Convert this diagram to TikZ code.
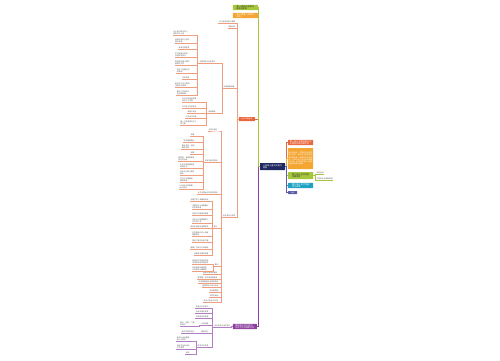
\documentclass[tikz,border=0pt]{standalone}
\usepackage{fontspec}
\setmainfont{Noto Sans CJK SC}
\XeTeXlinebreaklocale "zh"
\XeTeXlinebreakskip = 0pt plus 1pt
\usetikzlibrary{positioning}
\tikzstyle{mapCanvas} = [x = 1pt, y = -1pt]
\definecolor{rootColor}{HTML}{1F2A63}
\definecolor{limeColor}{HTML}{A6C63C}
\definecolor{amberColor}{HTML}{F4A532}
\definecolor{coralColor}{HTML}{E9673D}
\definecolor{plumColor}{HTML}{8C3F9E}
\definecolor{tealColor}{HTML}{1DA2C4}
\definecolor{slateColor}{HTML}{5C5EA8}
\definecolor{coralLine}{HTML}{EE9E7E}
\definecolor{plumLine}{HTML}{B27DC2}
\tikzstyle{boxStyle} = [rounded corners = .3pt, inner sep = .4pt, align = left, font = \fontsize{2.1}{2.4}\selectfont, text = white]
\tikzstyle{leafText} = [anchor = east, inner sep = .3pt, align = left, font = \fontsize{1.8}{2.1}\selectfont, text = black!65]
\tikzstyle{trunkLine} = [line width = .55pt]
\tikzstyle{branchLine} = [line width = .35pt]
% leaf: name, parent anchor, colour, x, y, text
\newcommand{\leafNode}[6]{
  \node [leafText] (#1) at (#4,#5) {#6};
  \draw [branchLine, #3] (#1.south west) -- (#1.south east) -| ([xshift=-1.5pt]#2) -- (#2);
}
\newcommand{\leafRight}[6]{
  \node [leafText, anchor = west] (#1) at (#4,#5) {#6};
  \draw [branchLine, #3] (#1.south east) -- (#1.south west) -| ([xshift=1.5pt]#2) -- (#2);
}

\begin{document}
\begin{tikzpicture}[mapCanvas]
    \useasboundingbox (0,0) rectangle (500,360);
    % root
    \node [boxStyle, fill = rootColor, minimum width = 25pt, minimum height = 7pt] (root) at (272.5,166.5) {八年级上册历史复习\\提纲};
    % right side
    \node [boxStyle, fill = coralColor, minimum width = 25pt, minimum height = 5pt, anchor = west] (unitOne) at (288,142.5) {第一单元 中国开始沦为\\半殖民地半封建社会};
    \node [boxStyle, fill = amberColor, text width = 24pt, minimum height = 21pt, anchor = west, font = \fontsize{1.8}{2.3}\selectfont] (unitSummary) at (288,158.5) {鸦片战争后，中国的社会性质发生变化，逐渐沦为半殖民地半封建社会，民族危机不断加深，人民开始了反抗外来侵略的斗争，先进的中国人开始探索救国救民的道路。};
    \node [boxStyle, fill = limeColor, minimum width = 25pt, minimum height = 7pt, anchor = west, text = black!80] (unitTwo) at (288,175.5) {第二单元 近代化的\\早期探索};
    \node [boxStyle, fill = tealColor, minimum width = 25pt, minimum height = 5pt, anchor = west] (unitThree) at (288,185.5) {第三单元 资产阶级\\民主革命};
    \node [boxStyle, fill = slateColor, minimum width = 9pt, minimum height = 3pt, anchor = west, font = \fontsize{1.6}{1.9}\selectfont] (summary) at (288,192.5) {总结};
    \draw [trunkLine, coralColor] (root.east) -- ++(1.5,0) |- (unitOne.west);
    \draw [trunkLine, amberColor] (root.east) -- ++(1.5,0) |- (unitSummary.west);
    \draw [trunkLine, limeColor] (root.east) -- ++(1.5,0) |- (unitTwo.west);
    \draw [trunkLine, tealColor] (root.east) -- ++(1.5,0) |- (unitThree.west);
    \draw [trunkLine, slateColor] (root.east) -- ++(1.5,0) |- (summary.west);
    \leafRight{reform}{unitTwo.east}{limeColor}{316}{172.5}{洋务运动}
    \leafRight{wuxu}{unitTwo.east}{limeColor}{316}{178.5}{戊戌变法与维新思想}
    % left side
    \node [boxStyle, fill = limeColor, minimum width = 25pt, minimum height = 5pt, anchor = east, text = black!80] (lessonOne) at (258,7.5) {第一课 鸦片战争的\\爆发与影响};
    \node [boxStyle, fill = amberColor, minimum width = 25pt, minimum height = 5pt, anchor = east] (lessonTwo) at (258,15.5) {第二课 第二次鸦片\\战争};
    \node [boxStyle, fill = coralColor, minimum width = 16pt, minimum height = 4pt, anchor = east, font = \fontsize{1.8}{2.1}\selectfont] (taiping) at (255,119) {太平天国运动};
    \node [boxStyle, fill = plumColor, minimum width = 24pt, minimum height = 5pt, anchor = east] (society) at (257,326.5) {第四单元 近代经济\\社会生活与教育文化};
    \draw [trunkLine, plumColor] (root.west) -- ++(-1.5,0) |- (society.east);
    \draw [trunkLine, coralColor] (root.west) -- ++(-1.5,0) |- (taiping.east);
    \draw [trunkLine, amberColor] (root.west) -- ++(-1.5,0) |- (lessonTwo.east);
    \draw [trunkLine, limeColor] (root.west) -- ++(-1.5,0) |- (lessonOne.east);
    % taiping branch
    \leafNode{jintian}{taiping.west}{coralLine}{236}{21.5}{1851年金田起义爆发}
    \leafNode{tianjing}{taiping.west}{coralLine}{236}{26.5}{定都天京}
    \leafNode{tianmu}{taiping.west}{coralLine}{235}{86.5}{天朝田亩制度}
    \leafNode{decline}{taiping.west}{coralLine}{236}{215.5}{天京变乱与失败}
    \leafNode{content}{tianmu.south west}{coralLine}{216}{61.5}{主要内容与历史意义}
    \leafNode{zizheng}{tianmu.south west}{coralLine}{216}{111.5}{资政新篇}
    \leafNode{aOne}{content.south west}{coralLine}{190}{33}{以土地问题为中心，\\规定平分土地}
    \leafNode{aTwo}{content.south west}{coralLine}{190}{41}{反映农民对土地的\\强烈渴望}
    \leafNode{aThree}{content.south west}{coralLine}{190}{48}{具有空想性质}
    \leafNode{aFour}{content.south west}{coralLine}{190}{55}{不可能真正实现，\\没有实际执行}
    \leafNode{aFive}{content.south west}{coralLine}{190}{62.5}{是农民阶级斗争的\\纲领性文件}
    \leafNode{aSix}{content.south west}{coralLine}{190}{70.5}{否定了封建土地\\所有制}
    \leafNode{aSeven}{content.south west}{coralLine}{190}{78}{历史局限}
    \leafNode{aEight}{content.south west}{coralLine}{190}{85}{绝对平均主义思想\\违背经济规律}
    \leafNode{aNine}{content.south west}{coralLine}{190}{92.5}{推动了农民起义\\达到新高峰}
    \leafNode{bOne}{zizheng.south west}{coralLine}{197}{100}{洪仁玕提出的发展\\资本主义方案}
    \leafNode{bTwo}{zizheng.south west}{coralLine}{197}{106.5}{学习西方先进技术}
    \leafNode{bThree}{zizheng.south west}{coralLine}{197}{111.5}{发展工商业}
    \leafNode{bFour}{zizheng.south west}{coralLine}{197}{116.5}{兴办近代交通}
    \leafNode{bFive}{zizheng.south west}{coralLine}{197}{123}{第一个发展资本主义\\的方案}
    % decline branch
    \leafNode{northern}{decline.south west}{coralLine}{218}{129.5}{北伐与西征}
    \leafNode{cause}{decline.south west}{coralLine}{218}{160.5}{天京变乱的原因}
    \leafNode{failure}{decline.south west}{coralLine}{218}{192.5}{太平天国运动失败的原因}
    \leafNode{meaning}{decline.south west}{coralLine}{218}{226.5}{意义}
    \leafNode{lesson}{decline.south west}{coralLine}{219}{264.5}{教训}
    \leafNode{dOne}{decline.south west}{coralLine}{218}{272.5}{湘军与淮军的镇压}
    \leafNode{dTwo}{decline.south west}{coralLine}{218}{277.5}{曾国藩、李鸿章组建武装}
    \leafNode{dThree}{decline.south west}{coralLine}{219}{281.5}{外国侵略者协助清军镇压}
    \leafNode{dFour}{decline.south west}{coralLine}{219}{286}{组建洋枪队参与作战}
    \leafNode{dFive}{decline.south west}{coralLine}{219}{291}{天京被围困}
    \leafNode{dSix}{decline.south west}{coralLine}{219}{296}{洪秀全病逝}
    \leafNode{dSeven}{decline.south west}{coralLine}{219}{300.5}{坚持斗争至1868年}
    \leafNode{cOne}{cause.south west}{coralLine}{195}{135}{背景}
    \leafNode{cTwo}{cause.south west}{coralLine}{195}{140.5}{领导集团腐化}
    \leafNode{cThree}{cause.south west}{coralLine}{195}{147}{争权夺利，互相\\猜忌残杀}
    \leafNode{cFour}{cause.south west}{coralLine}{195}{152.5}{结果}
    \leafNode{cFive}{cause.south west}{coralLine}{195}{158.5}{杨秀清、韦昌辉被杀\\石达开出走}
    \leafNode{cSix}{cause.south west}{coralLine}{195}{166}{太平天国由盛转衰\\的转折点}
    \leafNode{cSeven}{cause.south west}{coralLine}{195}{173}{中外反动势力联合\\镇压}
    \leafNode{cEight}{cause.south west}{coralLine}{195}{180}{洪仁玕总理朝政，\\颁布新政}
    \leafNode{cNine}{cause.south west}{coralLine}{195}{186.5}{1864年天京陷落，\\运动失败}
    \leafNode{eOne}{meaning.south west}{coralLine}{209}{200}{沉重打击了清朝的统治}
    \leafNode{eTwo}{meaning.south west}{coralLine}{209}{207}{中国历史上规模最大\\的农民战争}
    \leafNode{eThree}{meaning.south west}{coralLine}{209}{214}{动摇了封建统治根基}
    \leafNode{eFour}{meaning.south west}{coralLine}{209}{221}{冲击了外国侵略势力\\在华的扩张}
    \leafNode{eFive}{meaning.south west}{coralLine}{209}{226.5}{具有反封建反侵略性质}
    \leafNode{eSix}{meaning.south west}{coralLine}{209}{233.5}{在中国近代史上具有\\重要地位}
    \leafNode{eSeven}{meaning.south west}{coralLine}{209}{240.5}{提出了新的社会方案}
    \leafNode{eEight}{meaning.south west}{coralLine}{209}{247.5}{鼓舞了人民的斗争精神}
    \leafNode{eNine}{meaning.south west}{coralLine}{209}{253.5}{加速清王朝的衰落}
    \leafNode{fOne}{lesson.south west}{coralLine}{209}{261.5}{单纯的农民战争不能\\完成反帝反封建任务}
    \leafNode{fTwo}{lesson.south west}{coralLine}{209}{268.5}{农民阶级的局限性，\\无法提出正确纲领}
    % society branch
    \leafNode{life}{society.west}{plumLine}{231}{325.5}{近代社会生活的变化}
    \leafNode{pOne}{life.south west}{plumLine}{209}{306.5}{衣食住行的变化}
    \leafNode{pTwo}{life.south west}{plumLine}{209}{311.5}{社会风俗的变革}
    \leafNode{pThree}{life.south west}{plumLine}{209}{316.5}{交通通讯的发展}
    \leafNode{media}{life.south west}{plumLine}{209}{323.5}{大众传媒}
    \leafNode{school}{life.south west}{plumLine}{209}{331.5}{教育文化}
    \leafNode{thought}{life.south west}{plumLine}{209}{345.5}{思想文化变革}
    \leafNode{qOne}{media.south west}{plumLine}{195}{323.5}{报刊、电影、广播\\的出现}
    \leafNode{rOne}{school.south west}{plumLine}{195}{331.5}{新式学堂的创办}
    \leafNode{sOne}{thought.south west}{plumLine}{190}{338.5}{新文化运动提倡\\民主与科学}
    \leafNode{sTwo}{thought.south west}{plumLine}{190}{346.5}{白话文运动兴起\\文学革命}
    \leafNode{sThree}{thought.south west}{plumLine}{190}{352.5}{其他}
\end{tikzpicture}
\end{document}
